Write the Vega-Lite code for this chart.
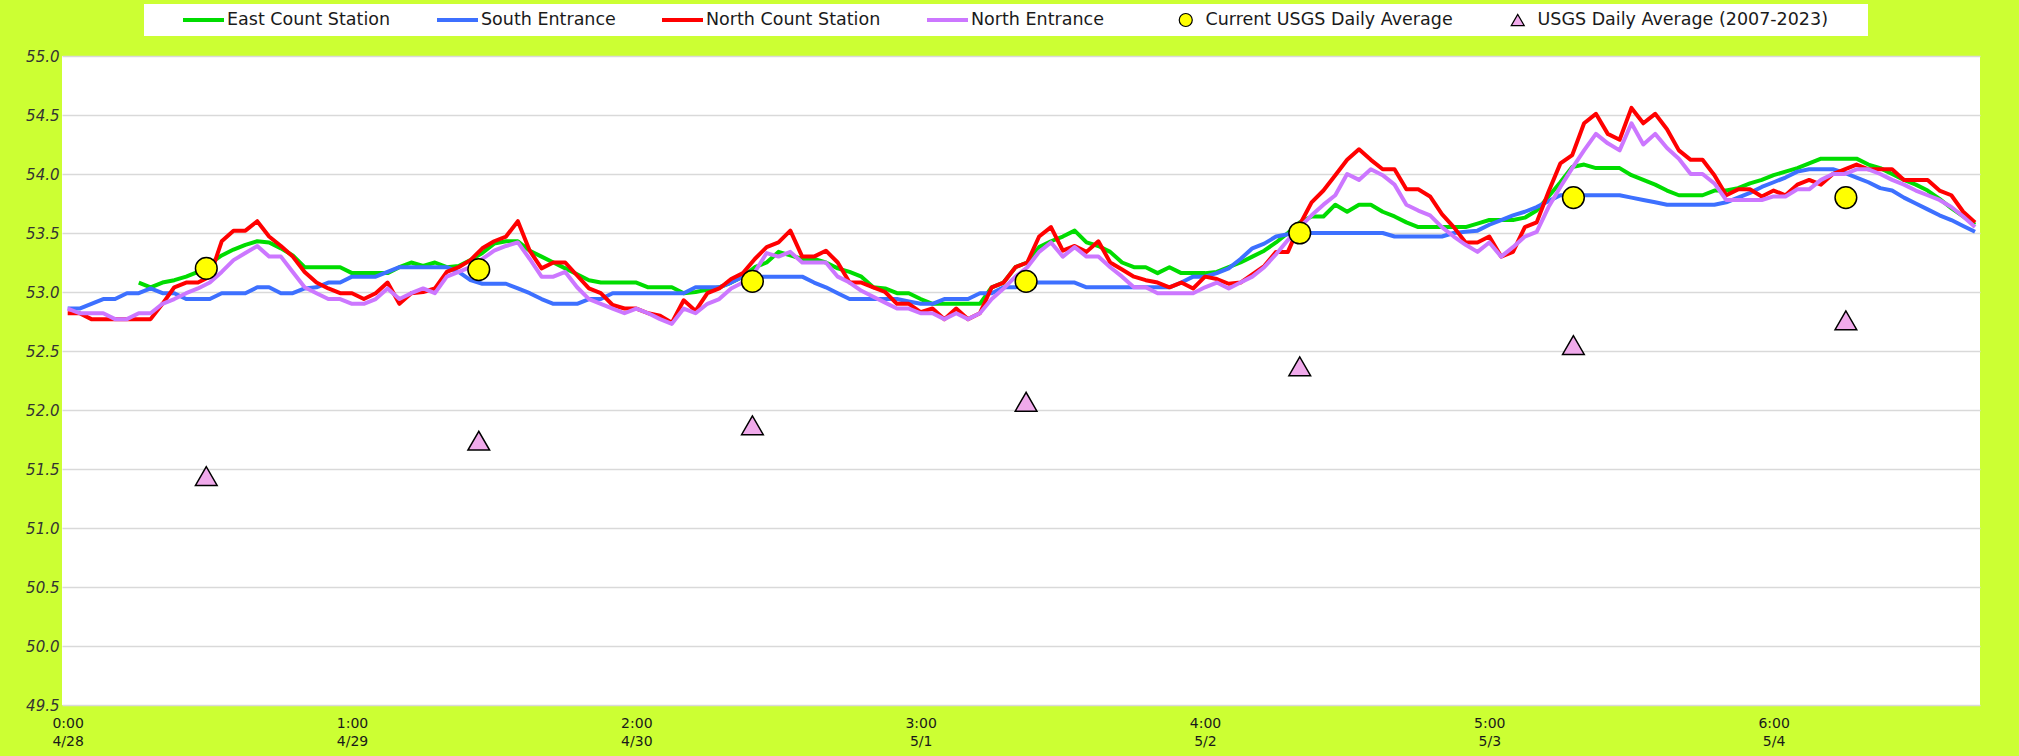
{
  "$schema": "https://vega.github.io/schema/vega-lite/v6.json",
  "width": 1918,
  "height": 649,
  "autosize": {"type": "none"},
  "padding": {"left": 62, "top": 56, "right": 39, "bottom": 51},
  "background": "#CCFF33",
  "config": {"view": {"fill": "white", "stroke": null}, "font": "DejaVu Sans"},
  "datasets": {
    "lines": [
      {"s":"East Count Station","t":6,"v":53.08},{"s":"East Count Station","t":7,"v":53.04},{"s":"East Count Station","t":8,"v":53.08},{"s":"East Count Station","t":9,"v":53.10},{"s":"East Count Station","t":10,"v":53.13},{"s":"East Count Station","t":11,"v":53.17},{"s":"East Count Station","t":12,"v":53.24},{"s":"East Count Station","t":13,"v":53.31},{"s":"East Count Station","t":14,"v":53.36},{"s":"East Count Station","t":15,"v":53.40},{"s":"East Count Station","t":16,"v":53.43},{"s":"East Count Station","t":17,"v":53.42},{"s":"East Count Station","t":18,"v":53.37},{"s":"East Count Station","t":19,"v":53.31},{"s":"East Count Station","t":20,"v":53.21},{"s":"East Count Station","t":21,"v":53.21},{"s":"East Count Station","t":22,"v":53.21},{"s":"East Count Station","t":23,"v":53.21},{"s":"East Count Station","t":24,"v":53.16},{"s":"East Count Station","t":25,"v":53.16},{"s":"East Count Station","t":26,"v":53.16},{"s":"East Count Station","t":27,"v":53.16},{"s":"East Count Station","t":28,"v":53.21},{"s":"East Count Station","t":29,"v":53.25},{"s":"East Count Station","t":30,"v":53.22},{"s":"East Count Station","t":31,"v":53.25},{"s":"East Count Station","t":32,"v":53.21},{"s":"East Count Station","t":33,"v":53.22},{"s":"East Count Station","t":34,"v":53.27},{"s":"East Count Station","t":35,"v":53.33},{"s":"East Count Station","t":36,"v":53.41},{"s":"East Count Station","t":37,"v":53.43},{"s":"East Count Station","t":38,"v":53.43},{"s":"East Count Station","t":39,"v":53.35},{"s":"East Count Station","t":40,"v":53.30},{"s":"East Count Station","t":41,"v":53.25},{"s":"East Count Station","t":42,"v":53.20},{"s":"East Count Station","t":43,"v":53.15},{"s":"East Count Station","t":44,"v":53.10},{"s":"East Count Station","t":45,"v":53.08},{"s":"East Count Station","t":46,"v":53.08},{"s":"East Count Station","t":47,"v":53.08},{"s":"East Count Station","t":48,"v":53.08},{"s":"East Count Station","t":49,"v":53.04},{"s":"East Count Station","t":50,"v":53.04},{"s":"East Count Station","t":51,"v":53.04},{"s":"East Count Station","t":52,"v":52.99},{"s":"East Count Station","t":53,"v":53.00},{"s":"East Count Station","t":54,"v":53.02},{"s":"East Count Station","t":55,"v":53.04},{"s":"East Count Station","t":56,"v":53.08},{"s":"East Count Station","t":57,"v":53.13},{"s":"East Count Station","t":58,"v":53.21},{"s":"East Count Station","t":59,"v":53.25},{"s":"East Count Station","t":60,"v":53.34},{"s":"East Count Station","t":61,"v":53.31},{"s":"East Count Station","t":62,"v":53.28},{"s":"East Count Station","t":63,"v":53.28},{"s":"East Count Station","t":64,"v":53.25},{"s":"East Count Station","t":65,"v":53.20},{"s":"East Count Station","t":66,"v":53.17},{"s":"East Count Station","t":67,"v":53.13},{"s":"East Count Station","t":68,"v":53.04},{"s":"East Count Station","t":69,"v":53.03},{"s":"East Count Station","t":70,"v":52.99},{"s":"East Count Station","t":71,"v":52.99},{"s":"East Count Station","t":72,"v":52.94},{"s":"East Count Station","t":73,"v":52.90},{"s":"East Count Station","t":74,"v":52.90},{"s":"East Count Station","t":75,"v":52.90},{"s":"East Count Station","t":76,"v":52.90},{"s":"East Count Station","t":77,"v":52.90},{"s":"East Count Station","t":78,"v":53.04},{"s":"East Count Station","t":79,"v":53.08},{"s":"East Count Station","t":80,"v":53.21},{"s":"East Count Station","t":81,"v":53.25},{"s":"East Count Station","t":82,"v":53.38},{"s":"East Count Station","t":83,"v":53.43},{"s":"East Count Station","t":84,"v":53.47},{"s":"East Count Station","t":85,"v":53.52},{"s":"East Count Station","t":86,"v":53.42},{"s":"East Count Station","t":87,"v":53.39},{"s":"East Count Station","t":88,"v":53.34},{"s":"East Count Station","t":89,"v":53.25},{"s":"East Count Station","t":90,"v":53.21},{"s":"East Count Station","t":91,"v":53.21},{"s":"East Count Station","t":92,"v":53.16},{"s":"East Count Station","t":93,"v":53.21},{"s":"East Count Station","t":94,"v":53.16},{"s":"East Count Station","t":95,"v":53.16},{"s":"East Count Station","t":96,"v":53.16},{"s":"East Count Station","t":97,"v":53.17},{"s":"East Count Station","t":98,"v":53.21},{"s":"East Count Station","t":99,"v":53.25},{"s":"East Count Station","t":100,"v":53.30},{"s":"East Count Station","t":101,"v":53.35},{"s":"East Count Station","t":102,"v":53.42},{"s":"East Count Station","t":103,"v":53.50},{"s":"East Count Station","t":104,"v":53.59},{"s":"East Count Station","t":105,"v":53.64},{"s":"East Count Station","t":106,"v":53.64},{"s":"East Count Station","t":107,"v":53.74},{"s":"East Count Station","t":108,"v":53.68},{"s":"East Count Station","t":109,"v":53.74},{"s":"East Count Station","t":110,"v":53.74},{"s":"East Count Station","t":111,"v":53.68},{"s":"East Count Station","t":112,"v":53.64},{"s":"East Count Station","t":113,"v":53.59},{"s":"East Count Station","t":114,"v":53.55},{"s":"East Count Station","t":115,"v":53.55},{"s":"East Count Station","t":116,"v":53.55},{"s":"East Count Station","t":117,"v":53.55},{"s":"East Count Station","t":118,"v":53.55},{"s":"East Count Station","t":119,"v":53.58},{"s":"East Count Station","t":120,"v":53.61},{"s":"East Count Station","t":121,"v":53.61},{"s":"East Count Station","t":122,"v":53.61},{"s":"East Count Station","t":123,"v":53.63},{"s":"East Count Station","t":124,"v":53.69},{"s":"East Count Station","t":125,"v":53.81},{"s":"East Count Station","t":126,"v":53.93},{"s":"East Count Station","t":127,"v":54.06},{"s":"East Count Station","t":128,"v":54.08},{"s":"East Count Station","t":129,"v":54.05},{"s":"East Count Station","t":130,"v":54.05},{"s":"East Count Station","t":131,"v":54.05},{"s":"East Count Station","t":132,"v":53.99},{"s":"East Count Station","t":133,"v":53.95},{"s":"East Count Station","t":134,"v":53.91},{"s":"East Count Station","t":135,"v":53.86},{"s":"East Count Station","t":136,"v":53.82},{"s":"East Count Station","t":137,"v":53.82},{"s":"East Count Station","t":138,"v":53.82},{"s":"East Count Station","t":139,"v":53.86},{"s":"East Count Station","t":140,"v":53.86},{"s":"East Count Station","t":141,"v":53.88},{"s":"East Count Station","t":142,"v":53.92},{"s":"East Count Station","t":143,"v":53.95},{"s":"East Count Station","t":144,"v":53.99},{"s":"East Count Station","t":145,"v":54.02},{"s":"East Count Station","t":146,"v":54.05},{"s":"East Count Station","t":147,"v":54.09},{"s":"East Count Station","t":148,"v":54.13},{"s":"East Count Station","t":149,"v":54.13},{"s":"East Count Station","t":150,"v":54.13},{"s":"East Count Station","t":151,"v":54.13},{"s":"East Count Station","t":152,"v":54.08},{"s":"East Count Station","t":153,"v":54.05},{"s":"East Count Station","t":154,"v":54.00},{"s":"East Count Station","t":155,"v":53.95},{"s":"East Count Station","t":156,"v":53.91},{"s":"East Count Station","t":157,"v":53.86},{"s":"East Count Station","t":158,"v":53.79},{"s":"East Count Station","t":159,"v":53.71},{"s":"East Count Station","t":160,"v":53.64},{"s":"East Count Station","t":161,"v":53.57},
      {"s":"South Entrance","t":0,"v":52.86},{"s":"South Entrance","t":1,"v":52.86},{"s":"South Entrance","t":2,"v":52.90},{"s":"South Entrance","t":3,"v":52.94},{"s":"South Entrance","t":4,"v":52.94},{"s":"South Entrance","t":5,"v":52.99},{"s":"South Entrance","t":6,"v":52.99},{"s":"South Entrance","t":7,"v":53.03},{"s":"South Entrance","t":8,"v":52.99},{"s":"South Entrance","t":9,"v":52.99},{"s":"South Entrance","t":10,"v":52.94},{"s":"South Entrance","t":11,"v":52.94},{"s":"South Entrance","t":12,"v":52.94},{"s":"South Entrance","t":13,"v":52.99},{"s":"South Entrance","t":14,"v":52.99},{"s":"South Entrance","t":15,"v":52.99},{"s":"South Entrance","t":16,"v":53.04},{"s":"South Entrance","t":17,"v":53.04},{"s":"South Entrance","t":18,"v":52.99},{"s":"South Entrance","t":19,"v":52.99},{"s":"South Entrance","t":20,"v":53.03},{"s":"South Entrance","t":21,"v":53.04},{"s":"South Entrance","t":22,"v":53.08},{"s":"South Entrance","t":23,"v":53.08},{"s":"South Entrance","t":24,"v":53.13},{"s":"South Entrance","t":25,"v":53.13},{"s":"South Entrance","t":26,"v":53.13},{"s":"South Entrance","t":27,"v":53.17},{"s":"South Entrance","t":28,"v":53.21},{"s":"South Entrance","t":29,"v":53.21},{"s":"South Entrance","t":30,"v":53.21},{"s":"South Entrance","t":31,"v":53.21},{"s":"South Entrance","t":32,"v":53.21},{"s":"South Entrance","t":33,"v":53.17},{"s":"South Entrance","t":34,"v":53.10},{"s":"South Entrance","t":35,"v":53.07},{"s":"South Entrance","t":36,"v":53.07},{"s":"South Entrance","t":37,"v":53.07},{"s":"South Entrance","t":38,"v":53.03},{"s":"South Entrance","t":39,"v":52.99},{"s":"South Entrance","t":40,"v":52.94},{"s":"South Entrance","t":41,"v":52.90},{"s":"South Entrance","t":42,"v":52.90},{"s":"South Entrance","t":43,"v":52.90},{"s":"South Entrance","t":44,"v":52.94},{"s":"South Entrance","t":45,"v":52.94},{"s":"South Entrance","t":46,"v":52.99},{"s":"South Entrance","t":47,"v":52.99},{"s":"South Entrance","t":48,"v":52.99},{"s":"South Entrance","t":49,"v":52.99},{"s":"South Entrance","t":50,"v":52.99},{"s":"South Entrance","t":51,"v":52.99},{"s":"South Entrance","t":52,"v":52.99},{"s":"South Entrance","t":53,"v":53.04},{"s":"South Entrance","t":54,"v":53.04},{"s":"South Entrance","t":55,"v":53.04},{"s":"South Entrance","t":56,"v":53.08},{"s":"South Entrance","t":57,"v":53.13},{"s":"South Entrance","t":58,"v":53.13},{"s":"South Entrance","t":59,"v":53.13},{"s":"South Entrance","t":60,"v":53.13},{"s":"South Entrance","t":61,"v":53.13},{"s":"South Entrance","t":62,"v":53.13},{"s":"South Entrance","t":63,"v":53.08},{"s":"South Entrance","t":64,"v":53.04},{"s":"South Entrance","t":65,"v":52.99},{"s":"South Entrance","t":66,"v":52.94},{"s":"South Entrance","t":67,"v":52.94},{"s":"South Entrance","t":68,"v":52.94},{"s":"South Entrance","t":69,"v":52.94},{"s":"South Entrance","t":70,"v":52.94},{"s":"South Entrance","t":71,"v":52.92},{"s":"South Entrance","t":72,"v":52.90},{"s":"South Entrance","t":73,"v":52.90},{"s":"South Entrance","t":74,"v":52.94},{"s":"South Entrance","t":75,"v":52.94},{"s":"South Entrance","t":76,"v":52.94},{"s":"South Entrance","t":77,"v":52.99},{"s":"South Entrance","t":78,"v":52.99},{"s":"South Entrance","t":79,"v":53.04},{"s":"South Entrance","t":80,"v":53.04},{"s":"South Entrance","t":81,"v":53.08},{"s":"South Entrance","t":82,"v":53.08},{"s":"South Entrance","t":83,"v":53.08},{"s":"South Entrance","t":84,"v":53.08},{"s":"South Entrance","t":85,"v":53.08},{"s":"South Entrance","t":86,"v":53.04},{"s":"South Entrance","t":87,"v":53.04},{"s":"South Entrance","t":88,"v":53.04},{"s":"South Entrance","t":89,"v":53.04},{"s":"South Entrance","t":90,"v":53.04},{"s":"South Entrance","t":91,"v":53.04},{"s":"South Entrance","t":92,"v":53.04},{"s":"South Entrance","t":93,"v":53.04},{"s":"South Entrance","t":94,"v":53.08},{"s":"South Entrance","t":95,"v":53.13},{"s":"South Entrance","t":96,"v":53.13},{"s":"South Entrance","t":97,"v":53.16},{"s":"South Entrance","t":98,"v":53.20},{"s":"South Entrance","t":99,"v":53.28},{"s":"South Entrance","t":100,"v":53.37},{"s":"South Entrance","t":101,"v":53.41},{"s":"South Entrance","t":102,"v":53.47},{"s":"South Entrance","t":103,"v":53.49},{"s":"South Entrance","t":104,"v":53.50},{"s":"South Entrance","t":105,"v":53.50},{"s":"South Entrance","t":106,"v":53.50},{"s":"South Entrance","t":107,"v":53.50},{"s":"South Entrance","t":108,"v":53.50},{"s":"South Entrance","t":109,"v":53.50},{"s":"South Entrance","t":110,"v":53.50},{"s":"South Entrance","t":111,"v":53.50},{"s":"South Entrance","t":112,"v":53.47},{"s":"South Entrance","t":113,"v":53.47},{"s":"South Entrance","t":114,"v":53.47},{"s":"South Entrance","t":115,"v":53.47},{"s":"South Entrance","t":116,"v":53.47},{"s":"South Entrance","t":117,"v":53.50},{"s":"South Entrance","t":118,"v":53.51},{"s":"South Entrance","t":119,"v":53.52},{"s":"South Entrance","t":120,"v":53.57},{"s":"South Entrance","t":121,"v":53.61},{"s":"South Entrance","t":122,"v":53.65},{"s":"South Entrance","t":123,"v":53.68},{"s":"South Entrance","t":124,"v":53.72},{"s":"South Entrance","t":125,"v":53.77},{"s":"South Entrance","t":126,"v":53.82},{"s":"South Entrance","t":127,"v":53.82},{"s":"South Entrance","t":128,"v":53.82},{"s":"South Entrance","t":129,"v":53.82},{"s":"South Entrance","t":130,"v":53.82},{"s":"South Entrance","t":131,"v":53.82},{"s":"South Entrance","t":132,"v":53.80},{"s":"South Entrance","t":133,"v":53.78},{"s":"South Entrance","t":134,"v":53.76},{"s":"South Entrance","t":135,"v":53.74},{"s":"South Entrance","t":136,"v":53.74},{"s":"South Entrance","t":137,"v":53.74},{"s":"South Entrance","t":138,"v":53.74},{"s":"South Entrance","t":139,"v":53.74},{"s":"South Entrance","t":140,"v":53.76},{"s":"South Entrance","t":141,"v":53.80},{"s":"South Entrance","t":142,"v":53.84},{"s":"South Entrance","t":143,"v":53.89},{"s":"South Entrance","t":144,"v":53.93},{"s":"South Entrance","t":145,"v":53.97},{"s":"South Entrance","t":146,"v":54.02},{"s":"South Entrance","t":147,"v":54.04},{"s":"South Entrance","t":148,"v":54.04},{"s":"South Entrance","t":149,"v":54.04},{"s":"South Entrance","t":150,"v":54.01},{"s":"South Entrance","t":151,"v":53.97},{"s":"South Entrance","t":152,"v":53.93},{"s":"South Entrance","t":153,"v":53.88},{"s":"South Entrance","t":154,"v":53.86},{"s":"South Entrance","t":155,"v":53.80},{"s":"South Entrance","t":156,"v":53.75},{"s":"South Entrance","t":157,"v":53.70},{"s":"South Entrance","t":158,"v":53.65},{"s":"South Entrance","t":159,"v":53.61},{"s":"South Entrance","t":160,"v":53.56},{"s":"South Entrance","t":161,"v":53.51},
      {"s":"North Count Station","t":0,"v":52.82},{"s":"North Count Station","t":1,"v":52.82},{"s":"North Count Station","t":2,"v":52.77},{"s":"North Count Station","t":3,"v":52.77},{"s":"North Count Station","t":4,"v":52.77},{"s":"North Count Station","t":5,"v":52.77},{"s":"North Count Station","t":6,"v":52.77},{"s":"North Count Station","t":7,"v":52.77},{"s":"North Count Station","t":8,"v":52.90},{"s":"North Count Station","t":9,"v":53.04},{"s":"North Count Station","t":10,"v":53.08},{"s":"North Count Station","t":11,"v":53.08},{"s":"North Count Station","t":12,"v":53.13},{"s":"North Count Station","t":13,"v":53.43},{"s":"North Count Station","t":14,"v":53.52},{"s":"North Count Station","t":15,"v":53.52},{"s":"North Count Station","t":16,"v":53.60},{"s":"North Count Station","t":17,"v":53.47},{"s":"North Count Station","t":18,"v":53.39},{"s":"North Count Station","t":19,"v":53.30},{"s":"North Count Station","t":20,"v":53.17},{"s":"North Count Station","t":21,"v":53.08},{"s":"North Count Station","t":22,"v":53.03},{"s":"North Count Station","t":23,"v":52.99},{"s":"North Count Station","t":24,"v":52.99},{"s":"North Count Station","t":25,"v":52.94},{"s":"North Count Station","t":26,"v":52.99},{"s":"North Count Station","t":27,"v":53.08},{"s":"North Count Station","t":28,"v":52.90},{"s":"North Count Station","t":29,"v":52.99},{"s":"North Count Station","t":30,"v":53.00},{"s":"North Count Station","t":31,"v":53.03},{"s":"North Count Station","t":32,"v":53.17},{"s":"North Count Station","t":33,"v":53.21},{"s":"North Count Station","t":34,"v":53.27},{"s":"North Count Station","t":35,"v":53.37},{"s":"North Count Station","t":36,"v":53.43},{"s":"North Count Station","t":37,"v":53.47},{"s":"North Count Station","t":38,"v":53.60},{"s":"North Count Station","t":39,"v":53.35},{"s":"North Count Station","t":40,"v":53.20},{"s":"North Count Station","t":41,"v":53.25},{"s":"North Count Station","t":42,"v":53.25},{"s":"North Count Station","t":43,"v":53.14},{"s":"North Count Station","t":44,"v":53.03},{"s":"North Count Station","t":45,"v":52.99},{"s":"North Count Station","t":46,"v":52.89},{"s":"North Count Station","t":47,"v":52.86},{"s":"North Count Station","t":48,"v":52.86},{"s":"North Count Station","t":49,"v":52.82},{"s":"North Count Station","t":50,"v":52.80},{"s":"North Count Station","t":51,"v":52.74},{"s":"North Count Station","t":52,"v":52.93},{"s":"North Count Station","t":53,"v":52.84},{"s":"North Count Station","t":54,"v":52.99},{"s":"North Count Station","t":55,"v":53.03},{"s":"North Count Station","t":56,"v":53.11},{"s":"North Count Station","t":57,"v":53.16},{"s":"North Count Station","t":58,"v":53.28},{"s":"North Count Station","t":59,"v":53.38},{"s":"North Count Station","t":60,"v":53.42},{"s":"North Count Station","t":61,"v":53.52},{"s":"North Count Station","t":62,"v":53.30},{"s":"North Count Station","t":63,"v":53.30},{"s":"North Count Station","t":64,"v":53.35},{"s":"North Count Station","t":65,"v":53.25},{"s":"North Count Station","t":66,"v":53.08},{"s":"North Count Station","t":67,"v":53.08},{"s":"North Count Station","t":68,"v":53.04},{"s":"North Count Station","t":69,"v":53.00},{"s":"North Count Station","t":70,"v":52.90},{"s":"North Count Station","t":71,"v":52.90},{"s":"North Count Station","t":72,"v":52.83},{"s":"North Count Station","t":73,"v":52.86},{"s":"North Count Station","t":74,"v":52.77},{"s":"North Count Station","t":75,"v":52.86},{"s":"North Count Station","t":76,"v":52.77},{"s":"North Count Station","t":77,"v":52.82},{"s":"North Count Station","t":78,"v":53.04},{"s":"North Count Station","t":79,"v":53.08},{"s":"North Count Station","t":80,"v":53.21},{"s":"North Count Station","t":81,"v":53.25},{"s":"North Count Station","t":82,"v":53.47},{"s":"North Count Station","t":83,"v":53.55},{"s":"North Count Station","t":84,"v":53.35},{"s":"North Count Station","t":85,"v":53.39},{"s":"North Count Station","t":86,"v":53.34},{"s":"North Count Station","t":87,"v":53.43},{"s":"North Count Station","t":88,"v":53.25},{"s":"North Count Station","t":89,"v":53.19},{"s":"North Count Station","t":90,"v":53.13},{"s":"North Count Station","t":91,"v":53.10},{"s":"North Count Station","t":92,"v":53.08},{"s":"North Count Station","t":93,"v":53.04},{"s":"North Count Station","t":94,"v":53.08},{"s":"North Count Station","t":95,"v":53.03},{"s":"North Count Station","t":96,"v":53.13},{"s":"North Count Station","t":97,"v":53.11},{"s":"North Count Station","t":98,"v":53.07},{"s":"North Count Station","t":99,"v":53.08},{"s":"North Count Station","t":100,"v":53.15},{"s":"North Count Station","t":101,"v":53.22},{"s":"North Count Station","t":102,"v":53.34},{"s":"North Count Station","t":103,"v":53.34},{"s":"North Count Station","t":104,"v":53.57},{"s":"North Count Station","t":105,"v":53.76},{"s":"North Count Station","t":106,"v":53.86},{"s":"North Count Station","t":107,"v":53.99},{"s":"North Count Station","t":108,"v":54.12},{"s":"North Count Station","t":109,"v":54.21},{"s":"North Count Station","t":110,"v":54.12},{"s":"North Count Station","t":111,"v":54.04},{"s":"North Count Station","t":112,"v":54.04},{"s":"North Count Station","t":113,"v":53.87},{"s":"North Count Station","t":114,"v":53.87},{"s":"North Count Station","t":115,"v":53.81},{"s":"North Count Station","t":116,"v":53.66},{"s":"North Count Station","t":117,"v":53.55},{"s":"North Count Station","t":118,"v":53.42},{"s":"North Count Station","t":119,"v":53.42},{"s":"North Count Station","t":120,"v":53.47},{"s":"North Count Station","t":121,"v":53.30},{"s":"North Count Station","t":122,"v":53.34},{"s":"North Count Station","t":123,"v":53.55},{"s":"North Count Station","t":124,"v":53.59},{"s":"North Count Station","t":125,"v":53.85},{"s":"North Count Station","t":126,"v":54.09},{"s":"North Count Station","t":127,"v":54.16},{"s":"North Count Station","t":128,"v":54.43},{"s":"North Count Station","t":129,"v":54.51},{"s":"North Count Station","t":130,"v":54.34},{"s":"North Count Station","t":131,"v":54.29},{"s":"North Count Station","t":132,"v":54.56},{"s":"North Count Station","t":133,"v":54.43},{"s":"North Count Station","t":134,"v":54.51},{"s":"North Count Station","t":135,"v":54.38},{"s":"North Count Station","t":136,"v":54.20},{"s":"North Count Station","t":137,"v":54.12},{"s":"North Count Station","t":138,"v":54.12},{"s":"North Count Station","t":139,"v":53.99},{"s":"North Count Station","t":140,"v":53.82},{"s":"North Count Station","t":141,"v":53.87},{"s":"North Count Station","t":142,"v":53.87},{"s":"North Count Station","t":143,"v":53.81},{"s":"North Count Station","t":144,"v":53.86},{"s":"North Count Station","t":145,"v":53.82},{"s":"North Count Station","t":146,"v":53.91},{"s":"North Count Station","t":147,"v":53.95},{"s":"North Count Station","t":148,"v":53.91},{"s":"North Count Station","t":149,"v":54.00},{"s":"North Count Station","t":150,"v":54.04},{"s":"North Count Station","t":151,"v":54.08},{"s":"North Count Station","t":152,"v":54.04},{"s":"North Count Station","t":153,"v":54.04},{"s":"North Count Station","t":154,"v":54.04},{"s":"North Count Station","t":155,"v":53.95},{"s":"North Count Station","t":156,"v":53.95},{"s":"North Count Station","t":157,"v":53.95},{"s":"North Count Station","t":158,"v":53.86},{"s":"North Count Station","t":159,"v":53.82},{"s":"North Count Station","t":160,"v":53.68},{"s":"North Count Station","t":161,"v":53.59},
      {"s":"North Entrance","t":0,"v":52.86},{"s":"North Entrance","t":1,"v":52.82},{"s":"North Entrance","t":2,"v":52.82},{"s":"North Entrance","t":3,"v":52.82},{"s":"North Entrance","t":4,"v":52.77},{"s":"North Entrance","t":5,"v":52.77},{"s":"North Entrance","t":6,"v":52.82},{"s":"North Entrance","t":7,"v":52.82},{"s":"North Entrance","t":8,"v":52.90},{"s":"North Entrance","t":9,"v":52.94},{"s":"North Entrance","t":10,"v":52.99},{"s":"North Entrance","t":11,"v":53.03},{"s":"North Entrance","t":12,"v":53.08},{"s":"North Entrance","t":13,"v":53.17},{"s":"North Entrance","t":14,"v":53.27},{"s":"North Entrance","t":15,"v":53.33},{"s":"North Entrance","t":16,"v":53.39},{"s":"North Entrance","t":17,"v":53.30},{"s":"North Entrance","t":18,"v":53.30},{"s":"North Entrance","t":19,"v":53.17},{"s":"North Entrance","t":20,"v":53.04},{"s":"North Entrance","t":21,"v":52.99},{"s":"North Entrance","t":22,"v":52.94},{"s":"North Entrance","t":23,"v":52.94},{"s":"North Entrance","t":24,"v":52.90},{"s":"North Entrance","t":25,"v":52.90},{"s":"North Entrance","t":26,"v":52.94},{"s":"North Entrance","t":27,"v":53.03},{"s":"North Entrance","t":28,"v":52.94},{"s":"North Entrance","t":29,"v":52.99},{"s":"North Entrance","t":30,"v":53.03},{"s":"North Entrance","t":31,"v":52.99},{"s":"North Entrance","t":32,"v":53.13},{"s":"North Entrance","t":33,"v":53.17},{"s":"North Entrance","t":34,"v":53.21},{"s":"North Entrance","t":35,"v":53.28},{"s":"North Entrance","t":36,"v":53.35},{"s":"North Entrance","t":37,"v":53.39},{"s":"North Entrance","t":38,"v":53.42},{"s":"North Entrance","t":39,"v":53.28},{"s":"North Entrance","t":40,"v":53.13},{"s":"North Entrance","t":41,"v":53.13},{"s":"North Entrance","t":42,"v":53.17},{"s":"North Entrance","t":43,"v":53.04},{"s":"North Entrance","t":44,"v":52.94},{"s":"North Entrance","t":45,"v":52.90},{"s":"North Entrance","t":46,"v":52.86},{"s":"North Entrance","t":47,"v":52.82},{"s":"North Entrance","t":48,"v":52.86},{"s":"North Entrance","t":49,"v":52.82},{"s":"North Entrance","t":50,"v":52.77},{"s":"North Entrance","t":51,"v":52.73},{"s":"North Entrance","t":52,"v":52.86},{"s":"North Entrance","t":53,"v":52.82},{"s":"North Entrance","t":54,"v":52.90},{"s":"North Entrance","t":55,"v":52.94},{"s":"North Entrance","t":56,"v":53.03},{"s":"North Entrance","t":57,"v":53.08},{"s":"North Entrance","t":58,"v":53.17},{"s":"North Entrance","t":59,"v":53.33},{"s":"North Entrance","t":60,"v":53.30},{"s":"North Entrance","t":61,"v":53.34},{"s":"North Entrance","t":62,"v":53.25},{"s":"North Entrance","t":63,"v":53.25},{"s":"North Entrance","t":64,"v":53.25},{"s":"North Entrance","t":65,"v":53.13},{"s":"North Entrance","t":66,"v":53.08},{"s":"North Entrance","t":67,"v":53.01},{"s":"North Entrance","t":68,"v":52.96},{"s":"North Entrance","t":69,"v":52.91},{"s":"North Entrance","t":70,"v":52.86},{"s":"North Entrance","t":71,"v":52.86},{"s":"North Entrance","t":72,"v":52.82},{"s":"North Entrance","t":73,"v":52.82},{"s":"North Entrance","t":74,"v":52.77},{"s":"North Entrance","t":75,"v":52.82},{"s":"North Entrance","t":76,"v":52.77},{"s":"North Entrance","t":77,"v":52.82},{"s":"North Entrance","t":78,"v":52.94},{"s":"North Entrance","t":79,"v":53.03},{"s":"North Entrance","t":80,"v":53.13},{"s":"North Entrance","t":81,"v":53.21},{"s":"North Entrance","t":82,"v":53.34},{"s":"North Entrance","t":83,"v":53.42},{"s":"North Entrance","t":84,"v":53.30},{"s":"North Entrance","t":85,"v":53.38},{"s":"North Entrance","t":86,"v":53.30},{"s":"North Entrance","t":87,"v":53.30},{"s":"North Entrance","t":88,"v":53.21},{"s":"North Entrance","t":89,"v":53.13},{"s":"North Entrance","t":90,"v":53.04},{"s":"North Entrance","t":91,"v":53.04},{"s":"North Entrance","t":92,"v":52.99},{"s":"North Entrance","t":93,"v":52.99},{"s":"North Entrance","t":94,"v":52.99},{"s":"North Entrance","t":95,"v":52.99},{"s":"North Entrance","t":96,"v":53.04},{"s":"North Entrance","t":97,"v":53.08},{"s":"North Entrance","t":98,"v":53.03},{"s":"North Entrance","t":99,"v":53.08},{"s":"North Entrance","t":100,"v":53.13},{"s":"North Entrance","t":101,"v":53.21},{"s":"North Entrance","t":102,"v":53.32},{"s":"North Entrance","t":103,"v":53.44},{"s":"North Entrance","t":104,"v":53.55},{"s":"North Entrance","t":105,"v":53.65},{"s":"North Entrance","t":106,"v":53.74},{"s":"North Entrance","t":107,"v":53.82},{"s":"North Entrance","t":108,"v":54.00},{"s":"North Entrance","t":109,"v":53.95},{"s":"North Entrance","t":110,"v":54.04},{"s":"North Entrance","t":111,"v":53.99},{"s":"North Entrance","t":112,"v":53.91},{"s":"North Entrance","t":113,"v":53.74},{"s":"North Entrance","t":114,"v":53.69},{"s":"North Entrance","t":115,"v":53.65},{"s":"North Entrance","t":116,"v":53.55},{"s":"North Entrance","t":117,"v":53.47},{"s":"North Entrance","t":118,"v":53.40},{"s":"North Entrance","t":119,"v":53.34},{"s":"North Entrance","t":120,"v":53.42},{"s":"North Entrance","t":121,"v":53.30},{"s":"North Entrance","t":122,"v":53.38},{"s":"North Entrance","t":123,"v":53.47},{"s":"North Entrance","t":124,"v":53.51},{"s":"North Entrance","t":125,"v":53.72},{"s":"North Entrance","t":126,"v":53.89},{"s":"North Entrance","t":127,"v":54.05},{"s":"North Entrance","t":128,"v":54.20},{"s":"North Entrance","t":129,"v":54.34},{"s":"North Entrance","t":130,"v":54.26},{"s":"North Entrance","t":131,"v":54.20},{"s":"North Entrance","t":132,"v":54.43},{"s":"North Entrance","t":133,"v":54.25},{"s":"North Entrance","t":134,"v":54.34},{"s":"North Entrance","t":135,"v":54.22},{"s":"North Entrance","t":136,"v":54.13},{"s":"North Entrance","t":137,"v":54.00},{"s":"North Entrance","t":138,"v":54.00},{"s":"North Entrance","t":139,"v":53.92},{"s":"North Entrance","t":140,"v":53.78},{"s":"North Entrance","t":141,"v":53.78},{"s":"North Entrance","t":142,"v":53.78},{"s":"North Entrance","t":143,"v":53.78},{"s":"North Entrance","t":144,"v":53.81},{"s":"North Entrance","t":145,"v":53.81},{"s":"North Entrance","t":146,"v":53.87},{"s":"North Entrance","t":147,"v":53.87},{"s":"North Entrance","t":148,"v":53.95},{"s":"North Entrance","t":149,"v":54.00},{"s":"North Entrance","t":150,"v":54.00},{"s":"North Entrance","t":151,"v":54.04},{"s":"North Entrance","t":152,"v":54.04},{"s":"North Entrance","t":153,"v":54.00},{"s":"North Entrance","t":154,"v":53.95},{"s":"North Entrance","t":155,"v":53.91},{"s":"North Entrance","t":156,"v":53.86},{"s":"North Entrance","t":157,"v":53.82},{"s":"North Entrance","t":158,"v":53.78},{"s":"North Entrance","t":159,"v":53.72},{"s":"North Entrance","t":160,"v":53.64},{"s":"North Entrance","t":161,"v":53.55}
    ],
    "pts": [
      {"s":"Current USGS Daily Average","t":11.7,"v":53.20},
      {"s":"Current USGS Daily Average","t":34.7,"v":53.19},
      {"s":"Current USGS Daily Average","t":57.8,"v":53.09},
      {"s":"Current USGS Daily Average","t":80.9,"v":53.09},
      {"s":"Current USGS Daily Average","t":104.0,"v":53.50},
      {"s":"Current USGS Daily Average","t":127.1,"v":53.80},
      {"s":"Current USGS Daily Average","t":150.1,"v":53.80},
      {"s":"USGS Daily Average (2007-2023)","t":11.7,"v":51.44},
      {"s":"USGS Daily Average (2007-2023)","t":34.7,"v":51.74},
      {"s":"USGS Daily Average (2007-2023)","t":57.8,"v":51.87},
      {"s":"USGS Daily Average (2007-2023)","t":80.9,"v":52.07},
      {"s":"USGS Daily Average (2007-2023)","t":104.0,"v":52.37},
      {"s":"USGS Daily Average (2007-2023)","t":127.1,"v":52.55},
      {"s":"USGS Daily Average (2007-2023)","t":150.1,"v":52.76}
    ]
  },
  "encoding": {
    "x": {
      "field": "t", "type": "quantitative",
      "scale": {"domain": [-0.48, 161.42], "nice": false, "zero": false},
      "axis": {
        "values": [0, 24, 48, 72, 96, 120, 144],
        "labelExpr": "[['0:00','1:00','2:00','3:00','4:00','5:00','6:00'][round(datum.value/24)], ['4/28','4/29','4/30','5/1','5/2','5/3','5/4'][round(datum.value/24)]]",
        "title": null, "grid": false, "ticks": false, "domain": false,
        "labelFont": "DejaVu Sans", "labelFontSize": 14, "labelColor": "#1a1a1a",
        "labelLineHeight": 18, "labelPadding": 11.5, "labelAngle": 0,
        "labelOverlap": false, "labelFlush": false
      }
    },
    "y": {
      "field": "v", "type": "quantitative",
      "scale": {"domain": [49.5, 55], "nice": false, "zero": false},
      "axis": {
        "values": [49.5, 50, 50.5, 51, 51.5, 52, 52.5, 53, 53.5, 54, 54.5, 55],
        "format": ".1f", "title": null, "grid": true, "gridColor": "#D9D9D9", "gridWidth": 1.5,
        "ticks": false, "domain": false,
        "labelFont": "DejaVu Sans", "labelFontStyle": "italic", "labelFontSize": 15,
        "labelColor": "#333333", "labelPadding": 3
      }
    }
  },
  "layer": [
    {
      "data": {"name": "lines"},
      "mark": {"type": "line", "strokeWidth": 4, "strokeJoin": "round"},
      "encoding": {
        "stroke": {
          "field": "s", "type": "nominal",
          "scale": {"domain": ["East Count Station", "South Entrance", "North Count Station", "North Entrance"], "range": ["#00DC00", "#3D70FF", "#FF0000", "#CC77FF"]},
          "legend": {
            "orient": "none", "legendX": 82, "legendY": -52, "direction": "horizontal",
            "title": " ", "titleOrient": "left", "titlePadding": 31, "titleFontSize": 17.5,
            "fillColor": "white", "padding": 6, "clipHeight": 20,
            "symbolType": "stroke", "symbolSize": 1681, "symbolStrokeWidth": 4,
            "labelFont": "DejaVu Sans", "labelFontSize": 17.5, "labelColor": "#1a1a1a",
            "labelOffset": 1, "columnPadding": 44, "labelLimit": 500
          }
        }
      }
    },
    {
      "data": {"name": "pts"},
      "mark": {"type": "point", "filled": true, "stroke": "black", "strokeWidth": 1.5, "opacity": 1, "size": 470},
      "encoding": {
        "color": {
          "field": "s", "type": "nominal",
          "scale": {"domain": ["Current USGS Daily Average", "USGS Daily Average (2007-2023)"], "range": ["#FFFF00", "#F0AAEB"]},
          "legend": {
            "orient": "none", "legendX": 1047, "legendY": -52, "direction": "horizontal",
            "title": " ", "titleOrient": "left", "titlePadding": 62, "titleFontSize": 17.5,
            "fillColor": "white", "padding": 6, "clipHeight": 20,
            "symbolSize": 170, "symbolStrokeColor": "black", "symbolStrokeWidth": 1.2,
            "labelFont": "DejaVu Sans", "labelFontSize": 17.5, "labelColor": "#1a1a1a",
            "labelOffset": 11, "columnPadding": 56, "labelLimit": 600,
            "labelExpr": "datum.label == 'USGS Daily Average (2007-2023)' ? datum.label + '\u00a0\u00a0\u00a0\u00a0\u00a0\u00a0\u200b' : datum.label"
          }
        },
        "shape": {
          "field": "s", "type": "nominal",
          "scale": {"domain": ["Current USGS Daily Average", "USGS Daily Average (2007-2023)"], "range": ["circle", "triangle-up"]},
          "legend": {
            "orient": "none", "legendX": 1047, "legendY": -52, "direction": "horizontal",
            "title": " ", "titleOrient": "left", "titlePadding": 62, "titleFontSize": 17.5,
            "fillColor": "white", "padding": 6, "clipHeight": 20,
            "symbolSize": 170, "symbolStrokeColor": "black", "symbolStrokeWidth": 1.2,
            "labelFont": "DejaVu Sans", "labelFontSize": 17.5, "labelColor": "#1a1a1a",
            "labelOffset": 11, "columnPadding": 56, "labelLimit": 600,
            "labelExpr": "datum.label == 'USGS Daily Average (2007-2023)' ? datum.label + '\u00a0\u00a0\u00a0\u00a0\u00a0\u00a0\u200b' : datum.label"
          }
        }
      }
    }
  ]
}
